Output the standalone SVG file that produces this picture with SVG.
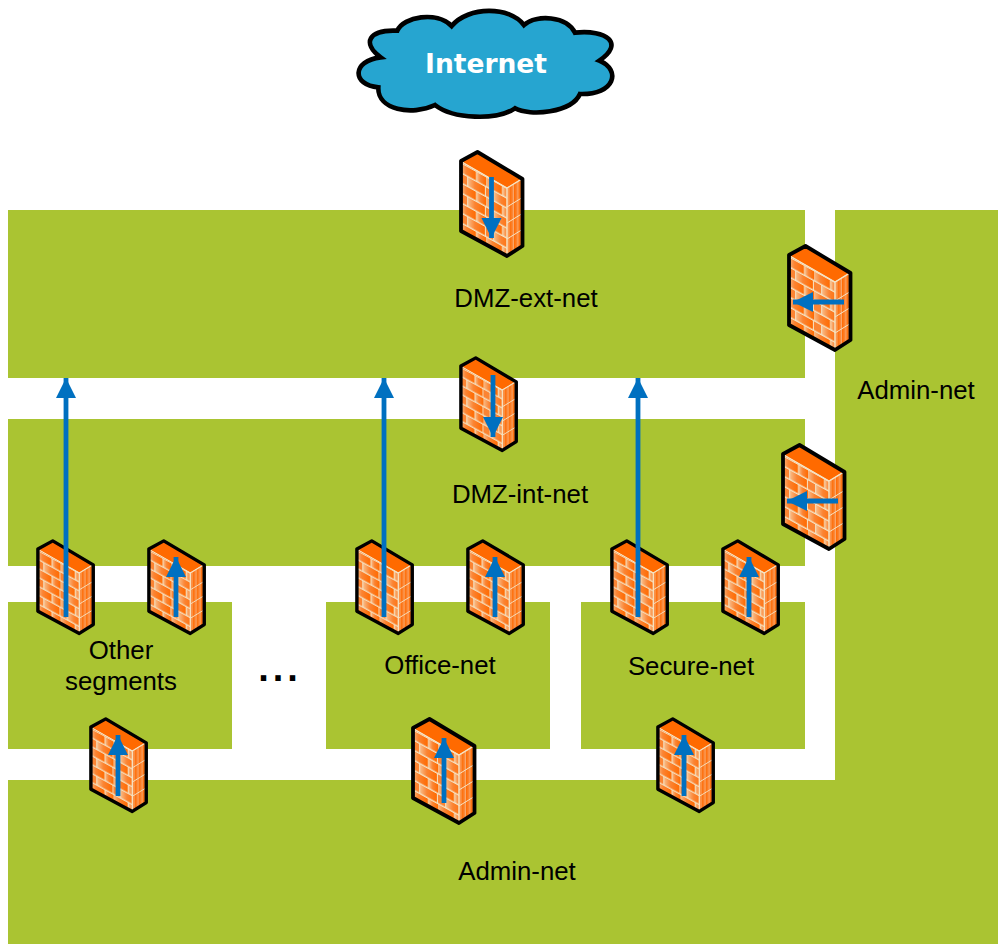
<svg xmlns="http://www.w3.org/2000/svg" xmlns:xlink="http://www.w3.org/1999/xlink" width="998" height="944" viewBox="0 0 998 944">
<style>
.net{fill:#AAC432}
.t{font-family:"Liberation Sans",Arial,sans-serif;font-size:25.8px;fill:#000;text-anchor:middle}
.c{fill:none;stroke:#0070C0;stroke-width:4.8;marker-end:url(#ah)}
</style>
<defs>
<marker id="ah" markerUnits="userSpaceOnUse" markerWidth="21" markerHeight="22" refX="20" refY="11" orient="auto"><path d="M0 1L20 11L0 21Z" fill="#0070C0"/></marker>
<linearGradient id="br"><stop offset="0" stop-color="#F8BC88"/><stop offset=".4" stop-color="#FB8433"/><stop offset="1" stop-color="#FF6A00"/></linearGradient>
<linearGradient id="sd" x1="0" x2="1" y1="0" y2="0"><stop offset="0" stop-color="#FF6A00"/><stop offset=".65" stop-color="#FB8433"/><stop offset="1" stop-color="#F8B580"/></linearGradient>
<pattern id="wall" patternUnits="userSpaceOnUse" width="26" height="20">
<rect width="26" height="20" fill="#F5E3C4"/>
<rect x="0" y="1" width="16" height="8.500" fill="url(#br)"/><rect x="17" y="1" width="9" height="8.500" fill="url(#br)"/>
<rect x="0" y="11" width="7" height="8.500" fill="#FB8433"/><rect x="8" y="11" width="17" height="8.500" fill="url(#br)"/>
</pattern>
<pattern id="side" patternUnits="userSpaceOnUse" width="4.500" height="14">
<rect width="4.500" height="14" fill="url(#sd)"/>
</pattern>
<g id="fw">
<path d="M17.500 1L1 10V80L47 105L62.500 95V28Z" fill="#FF6A00"/>
<g transform="matrix(1 .553 0 1 0 11)"><rect x="2" y="0" width="45" height="66" fill="url(#wall)"/></g>
<path d="M47 38L61.500 28V94L47 104Z" fill="url(#side)"/>
<path d="M47 56L61.500 47M47 72L61.500 63M47 88L61.500 79" stroke="#F5E3C4" stroke-width="1" fill="none"/>
<path d="M2 11L47 37V104M47 37L61.500 28" stroke="#F5E3C4" stroke-width="1.500" fill="none"/>
<path d="M17.500 2L2.500 10.500L47 36L61 27.500Z" fill="#FF6A00"/>
<path d="M17.500 1L1 10V80L47 105L62.500 95V28Z" fill="none" stroke="#000" stroke-width="3.800" stroke-linejoin="round"/>
</g>
</defs>
<rect width="998" height="944" fill="#fff"/>
<g id="net-dmz-ext"><rect class="net" x="8" y="210" width="797" height="168"/><text class="t" x="526" y="307">DMZ-ext-net</text></g>
<g id="net-dmz-int"><rect class="net" x="8" y="419" width="797" height="147"/><text class="t" x="520" y="503">DMZ-int-net</text></g>
<g id="net-other"><rect class="net" x="8" y="602" width="224" height="147"/><text class="t" x="121" y="659">Other</text><text class="t" x="121" y="690">segments</text></g>
<g id="net-office"><rect class="net" x="326" y="602" width="224" height="147"/><text class="t" x="440" y="674">Office-net</text></g>
<g id="net-secure"><rect class="net" x="581" y="602" width="224" height="147"/><text class="t" x="691" y="675">Secure-net</text></g>
<g id="net-admin"><path class="net" d="M835 210H998V944H8V780H835Z"/><text class="t" x="916" y="399">Admin-net</text><text class="t" x="517" y="880">Admin-net</text></g>
<g id="dots"><text x="280" y="681" font-family="Liberation Sans,Arial,sans-serif" font-size="38" font-weight="bold" text-anchor="middle" letter-spacing="4">...</text></g>
<g id="internet">
<path transform="translate(340 0) scale(.3333)" d="M172 92C190 50 290 32 335 78C385 18 510 18 552 75C590 42 680 48 705 98C800 88 855 130 778 182C845 210 825 285 720 282C695 338 570 350 525 325C470 362 340 358 285 315C215 348 112 330 115 262C35 255 35 182 122 172C65 130 85 88 172 92Z" fill="#26A5D0" stroke="#000" stroke-width="14" stroke-linejoin="miter"/>
<text x="486" y="73" font-family="DejaVu Sans,sans-serif" font-size="26.500" font-weight="bold" fill="#fff" text-anchor="middle">Internet</text>
</g>
<g id="fw-ext"><use xlink:href="#fw" href="#fw" x="460" y="151"/></g>
<g id="fw-admin-ext"><use xlink:href="#fw" href="#fw" x="788" y="245"/></g>
<g id="fw-admin-int"><use xlink:href="#fw" href="#fw" x="782" y="444"/></g>
<g id="fw-admin-office"><use xlink:href="#fw" href="#fw" x="412" y="718"/></g>
<g id="fw-dmz"><use xlink:href="#fw" href="#fw" transform="translate(460 357) scale(.9 .89)"/></g>
<g id="fw-other-a"><use xlink:href="#fw" href="#fw" transform="translate(37 540) scale(.9 .89)"/></g>
<g id="fw-other-b"><use xlink:href="#fw" href="#fw" transform="translate(148 540) scale(.9 .89)"/></g>
<g id="fw-office-a"><use xlink:href="#fw" href="#fw" transform="translate(356 540) scale(.9 .89)"/></g>
<g id="fw-office-b"><use xlink:href="#fw" href="#fw" transform="translate(467 540) scale(.9 .89)"/></g>
<g id="fw-secure-a"><use xlink:href="#fw" href="#fw" transform="translate(611 540) scale(.9 .89)"/></g>
<g id="fw-secure-b"><use xlink:href="#fw" href="#fw" transform="translate(722 540) scale(.9 .89)"/></g>
<g id="fw-admin-other"><use xlink:href="#fw" href="#fw" transform="translate(90 718) scale(.9 .89)"/></g>
<g id="fw-admin-secure"><use xlink:href="#fw" href="#fw" transform="translate(657 718) scale(.9 .89)"/></g>
<g id="connectors">
<path class="c" d="M491.500 177V238"/>
<path class="c" d="M844 302H793"/>
<path class="c" d="M493 375V437"/>
<path class="c" d="M838 501H787"/>
<path class="c" d="M66 617V378"/>
<path class="c" d="M384 617V378"/>
<path class="c" d="M638 617V378"/>
<path class="c" d="M176 617V557"/>
<path class="c" d="M495 617V557"/>
<path class="c" d="M749 617V557"/>
<path class="c" d="M118 796V735"/>
<path class="c" d="M444 803V738"/>
<path class="c" d="M684 796V735"/>
</g>
</svg>
